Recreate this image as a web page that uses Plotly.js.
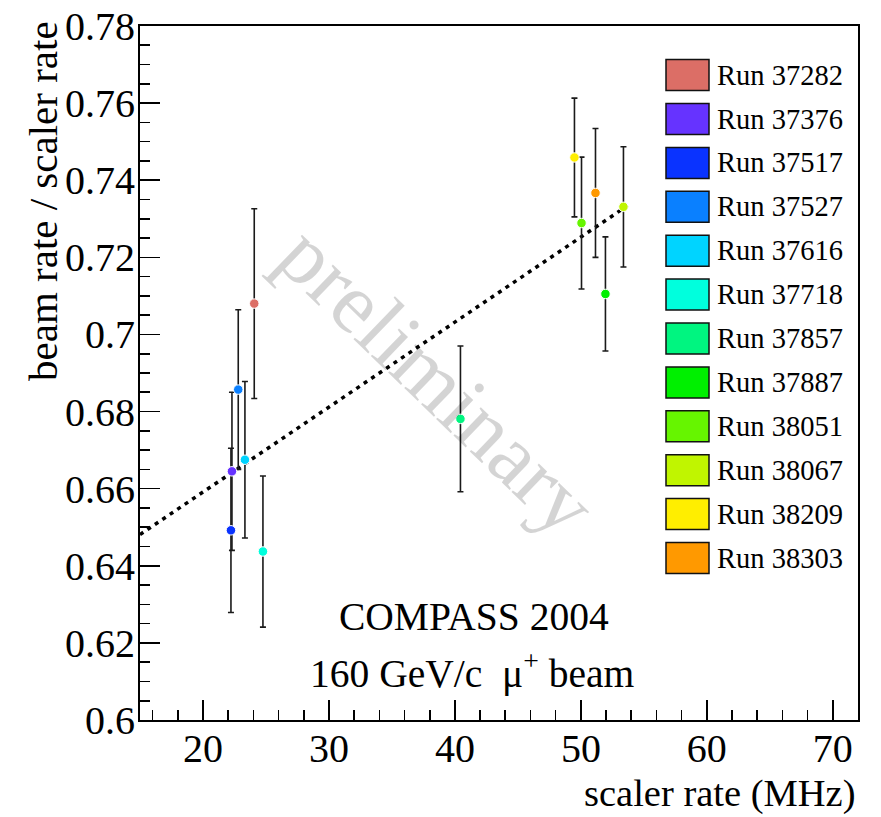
<!DOCTYPE html>
<html><head><meta charset="utf-8">
<script src="https://cdn.plot.ly/plotly-3.0.1.min.js"></script>
<style>html,body{margin:0;padding:0;background:#fff}</style>
</head><body><div id="chart" style="width:881px;height:817px"></div>
<script>
// ---- data ----
const runs = ['Run 37282','Run 37376','Run 37517','Run 37527','Run 37616','Run 37718',
              'Run 37857','Run 37887','Run 38051','Run 38067','Run 38209','Run 38303'];
const runColors = ['#dc6e66','#6633ff','#0a33ff','#0a80ff','#00d4ff','#00ffdd',
                   '#00f580','#00f000','#66f500','#c0f500','#ffee00','#ff9900'];
const scalerRate = [24.07, 22.30, 22.22, 22.80, 23.33, 24.76, 40.44, 51.95, 50.05, 53.38, 49.49, 51.16];
const rateRatio  = [0.7080, 0.6645, 0.6492, 0.6857, 0.6675, 0.6437, 0.6781, 0.7105, 0.7289, 0.7331, 0.7459, 0.7367];
const ratioErr   = [0.0246, 0.0205, 0.0213, 0.0207, 0.0203, 0.0196, 0.0189, 0.0148, 0.0171, 0.0156, 0.0154, 0.0167];
const fitX = [15, 53.7];
const fitY = [0.6481, 0.7334];
const xTickVals = [20, 30, 40, 50, 60, 70];
const xTickText = ['20', '30', '40', '50', '60', '70'];
const yTickVals = [0.6, 0.62, 0.64, 0.66, 0.68, 0.7, 0.72, 0.74, 0.76, 0.78];
const yTickText = ['0.6', '0.62', '0.64', '0.66', '0.68', '0.7', '0.72', '0.74', '0.76', '0.78'];
const titleX = 'scaler rate (MHz)';
const titleY = 'beam rate / scaler rate';
const labelLines = ['COMPASS 2004', '160 GeV/c\u00a0\u00a0\u03bc<sup>+</sup> beam'];
const watermark = 'preliminary';

// ---- geometry ----
const W = 881, H = 817;
const M = {l: 140, r: 23, t: 26, b: 97};
const PW = W - M.l - M.r, PH = H - M.t - M.b;
const px = v => (v - M.l) / PW;
const py = v => (H - M.b - v) / PH;
const FONT = "'Liberation Serif', 'Times New Roman', Times, serif";

const traces = [
  {x: fitX, y: fitY, mode: 'lines', type: 'scatter', hoverinfo: 'skip',
   line: {color: 'black', width: 3.5, dash: '4px,5px'}, showlegend: false},
  {x: scalerRate, y: rateRatio, mode: 'markers', type: 'scatter', text: runs,
   error_y: {type: 'data', array: ratioErr, visible: true, color: '#1a1a1a', thickness: 1.6, width: 3},
   marker: {color: runColors, size: 9.5, line: {color: 'white', width: 1}}, showlegend: false}
];

const shapes = [], annotations = [];
runs.forEach((r, i) => {
  const cy = 75.1 + i * 43.9;
  shapes.push({type: 'rect', xref: 'paper', yref: 'paper',
    x0: px(666), x1: px(709), y0: py(cy + 15.5), y1: py(cy - 15.5),
    fillcolor: runColors[i], line: {color: '#111', width: 1.5}});
  annotations.push({xref: 'paper', yref: 'paper', x: px(715), y: py(cy), xanchor: 'left', yanchor: 'middle',
    text: r, showarrow: false, font: {family: FONT, size: 28.5, color: 'black'}});
});
annotations.push({xref: 'x', yref: 'y', x: 38.6, y: 0.6881, text: watermark, textangle: 44,
  showarrow: false, font: {family: FONT, size: 86, color: 'rgba(0,0,0,0.17)'}});
annotations.push({xref: 'paper', yref: 'paper', x: px(474), y: py(617), text: labelLines[0],
  showarrow: false, xanchor: 'center', yanchor: 'middle', font: {family: FONT, size: 39.5, color: 'black'}});
annotations.push({xref: 'paper', yref: 'paper', x: px(472), y: py(670), text: labelLines[1],
  showarrow: false, xanchor: 'center', yanchor: 'middle', font: {family: FONT, size: 39.5, color: 'black'}});
annotations.push({xref: 'paper', yref: 'paper', x: px(857), y: py(793), text: titleX,
  showarrow: false, xanchor: 'right', yanchor: 'middle', font: {family: FONT, size: 38.5, color: 'black'}});
annotations.push({xref: 'paper', yref: 'paper', x: px(43), y: py(19), text: titleY, textangle: -90,
  showarrow: false, xanchor: 'center', yanchor: 'top', font: {family: FONT, size: 41, color: 'black'}});

const axisCommon = {
  ticks: 'inside', ticklen: 20, tickwidth: 1.6, tickcolor: 'black',
  showline: true, linewidth: 2, linecolor: 'black', mirror: true,
  showgrid: false, zeroline: false, fixedrange: true,
  tickfont: {family: FONT, size: 40, color: 'black'}
};

const layout = {
  width: W, height: H, autosize: false, margin: M,
  paper_bgcolor: 'white', plot_bgcolor: 'white', showlegend: false,
  font: {family: FONT},
  xaxis: Object.assign({}, axisCommon, {range: [15, 72], tickmode: 'array', tickvals: xTickVals, ticktext: xTickText,
    ticklabelstandoff: -8,
    minor: {tickmode: 'linear', tick0: 0, dtick: 2, ticks: 'inside', ticklen: 10, tickwidth: 1.6, tickcolor: 'black'}}),
  yaxis: Object.assign({}, axisCommon, {range: [0.6, 0.78], tickmode: 'array', tickvals: yTickVals, ticktext: yTickText,
    ticklabelstandoff: -5,
    minor: {tickmode: 'linear', tick0: 0.6, dtick: 0.005, ticks: 'inside', ticklen: 10, tickwidth: 1.6, tickcolor: 'black'}}),
  shapes: shapes, annotations: annotations
};

Plotly.newPlot('chart', traces, layout, {staticPlot: true, displayModeBar: false});
</script></body></html>
